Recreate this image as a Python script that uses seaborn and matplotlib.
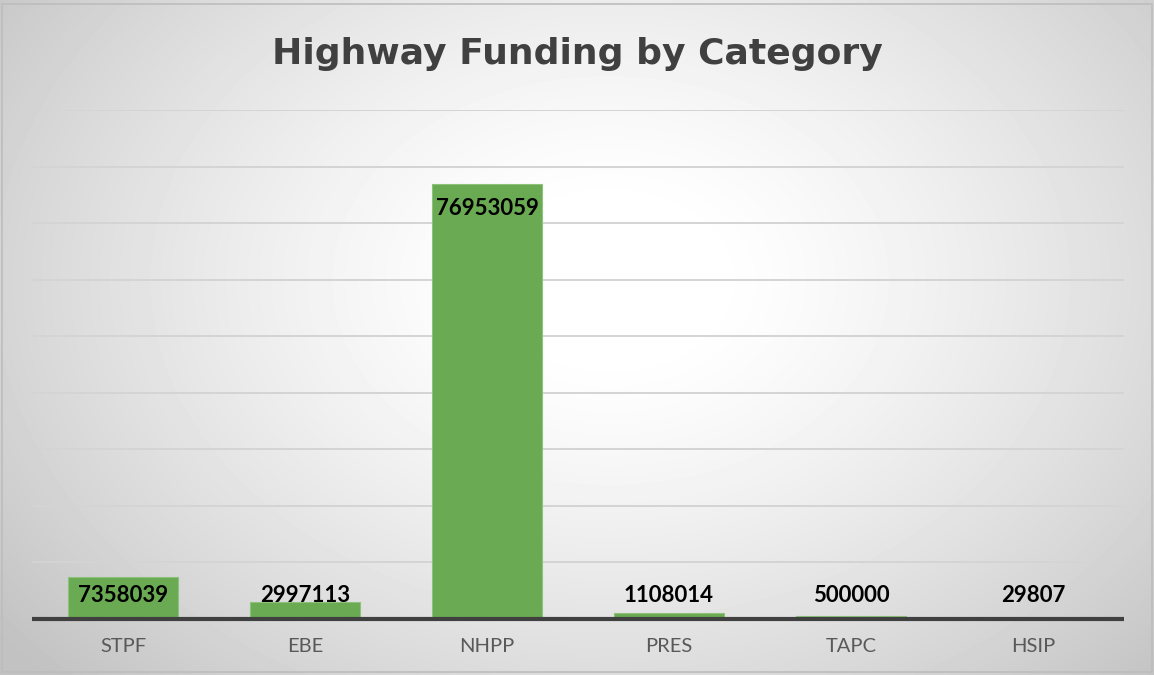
import numpy as np
import pandas as pd
import matplotlib
matplotlib.use("Agg")
import matplotlib.pyplot as plt
import seaborn as sns

# Data
categories = ["STPF", "EBE", "NHPP", "PRES", "TAPC", "HSIP"]
funding = [7358039, 2997113, 76953059, 1108014, 500000, 29807]
title = "Highway Funding by Category"

BAR_COLOR = "#6aaa52"
TEXT_GRAY = "#404040"

sns.set_theme(style="white")
plt.rcParams["font.family"] = ["Lato", "DejaVu Sans"]

df = pd.DataFrame({"Category": categories, "Funding": funding})

fig = plt.figure(figsize=(11.54, 6.75), dpi=100)

# radial gradient background (white centre, grey corners)
bg = fig.add_axes([0, 0, 1, 1], zorder=0)
h, w = 675, 1154
yy, xx = np.mgrid[0:h, 0:w]
r = np.sqrt(((xx - 610) / 640.0) ** 2 + ((yy - 280) / 470.0) ** 2)
shade = 1.0 - 0.22 * np.clip(r - 0.15, 0, None) ** 1.3
shade = np.clip(shade, 0.76, 1.0)
bg.imshow(shade, cmap="gray", vmin=0, vmax=1, extent=[0, 1, 0, 1],
          aspect="auto", origin="upper")
bg.add_patch(plt.Rectangle((2 / w, 3 / h), 1150 / w, 668 / h, fill=False,
                           edgecolor="#bdbdbd", lw=1.2, transform=bg.transAxes))
bg.set_axis_off()

ax = fig.add_axes([32 / w, 56 / h, 1092 / w, 509 / h], zorder=1)
ax.patch.set_alpha(0)

sns.barplot(data=df, x="Category", y="Funding", color=BAR_COLOR, width=0.6,
            saturation=1, edgecolor="#8cc27a", linewidth=0.8, ax=ax, zorder=3)

ax.set_ylim(0, 90_000_000)
ax.set_yticks(np.arange(10_000_000, 90_000_001, 10_000_000))
ax.yaxis.grid(True, color="#d4d4d4", lw=1.4, zorder=0)
ax.set_yticklabels([])
ax.tick_params(axis="y", length=0)
ax.axhline(0, color=TEXT_GRAY, lw=3, zorder=4, clip_on=False,
           solid_capstyle="butt")
for s in ax.spines.values():
    s.set_visible(False)

ax.set_xlabel("")
ax.set_ylabel("")
ax.tick_params(axis="x", length=0, pad=14, labelsize=14.5, labelcolor="#595959")

# data labels (inside end, pushed up when bar is too short)
for i, v in enumerate(funding):
    y = max(v - 4_330_000, 4_240_000)
    ax.text(i, y, str(v), ha="center", va="center", fontsize=16,
            fontweight="bold", color="black", zorder=5)

fig.text(0.5, 1 - 54 / h, title, ha="center", va="center", fontsize=26,
         fontweight="bold", color=TEXT_GRAY, family="DejaVu Sans")

fig.savefig("out.png", dpi=100)
